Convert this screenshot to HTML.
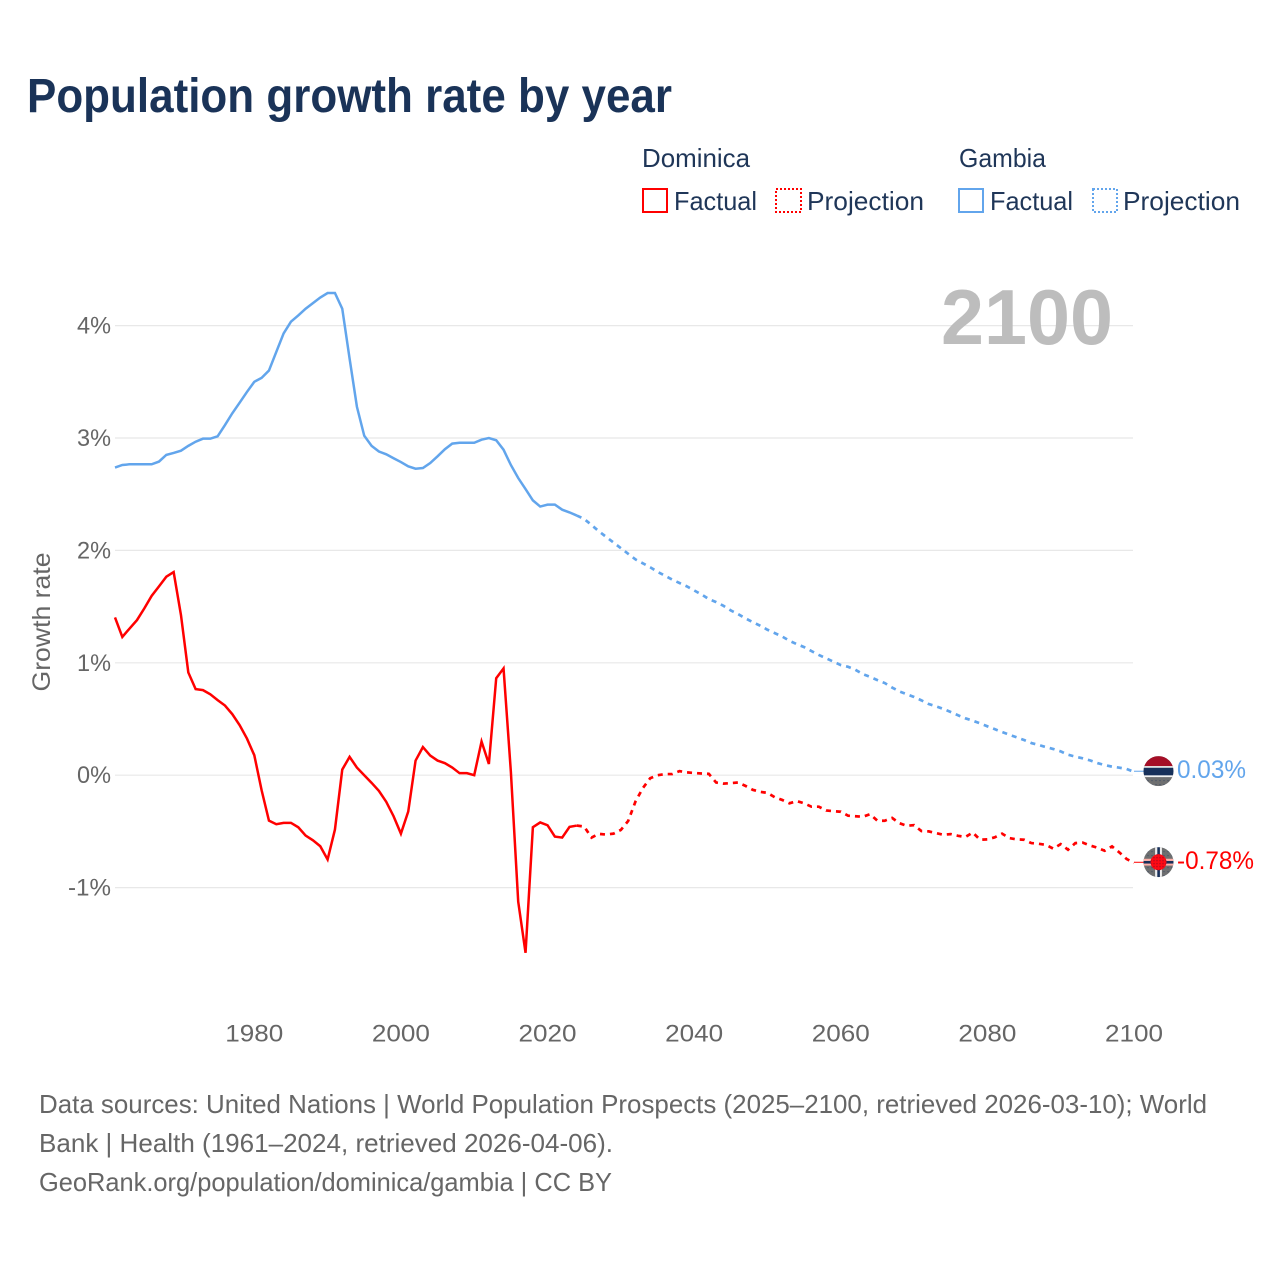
<!DOCTYPE html>
<html lang="en">
<head>
<meta charset="utf-8">
<title>Population growth rate by year</title>
<style>
html,body{margin:0;padding:0;background:#fff;}
svg{display:block;}
text{font-family:"Liberation Sans",sans-serif;}
</style>
</head>
<body>
<svg id="chart" xmlns="http://www.w3.org/2000/svg" width="1280" height="1280" viewBox="0 0 1280 1280">
  <defs>
    <pattern id="dot-pattern" width="4" height="4" patternUnits="userSpaceOnUse">
      <rect width="4" height="4" fill="#6e6f70"/>
      <circle cx="1.5" cy="1.5" r="0.55" fill="#2c3f60"/>
    </pattern>
    <pattern id="red-pattern" width="3" height="3" patternUnits="userSpaceOnUse">
      <rect width="3" height="3" fill="#ff0a14"/>
      <circle cx="1.5" cy="1.5" r="0.7" fill="#a80a20"/>
    </pattern>
    <clipPath id="flag-clip"><circle cx="0" cy="0" r="15"/></clipPath>
  </defs>

  <text x="27" y="112" font-size="48" font-weight="700" fill="#1a3358" textLength="645" lengthAdjust="spacingAndGlyphs">Population growth rate by year</text>

  <g font-size="26" fill="#1f3658">
    <text x="642" y="167" textLength="108" lengthAdjust="spacingAndGlyphs">Dominica</text>
    <text x="959" y="167" textLength="87" lengthAdjust="spacingAndGlyphs">Gambia</text>
    <g>
      <rect x="643" y="189" width="24" height="23" fill="none" stroke="#ff0000" stroke-width="2"/>
      <text x="674" y="210" textLength="83" lengthAdjust="spacingAndGlyphs">Factual</text>
    </g>
    <g>
      <rect x="776" y="189" width="25" height="23" fill="none" stroke="#ff0000" stroke-width="2" stroke-dasharray="2 2"/>
      <text x="807" y="210" textLength="117" lengthAdjust="spacingAndGlyphs">Projection</text>
    </g>
    <g>
      <rect x="959" y="189" width="24" height="23" fill="none" stroke="#62a5ec" stroke-width="2"/>
      <text x="990" y="210" textLength="83" lengthAdjust="spacingAndGlyphs">Factual</text>
    </g>
    <g>
      <rect x="1093" y="189" width="24" height="23" fill="none" stroke="#62a5ec" stroke-width="2" stroke-dasharray="2 2"/>
      <text x="1123" y="210" textLength="117" lengthAdjust="spacingAndGlyphs">Projection</text>
    </g>
  </g>

  <text transform="translate(50,622) rotate(-90)" text-anchor="middle" font-size="25" fill="#666666" textLength="139" lengthAdjust="spacingAndGlyphs">Growth rate</text>

  <g id="grid"></g>
  <g id="y-ticks"></g>
  <g id="x-ticks"></g>

  <text x="941" y="344" font-size="78" font-weight="700" fill="#bdbdbd" textLength="172" lengthAdjust="spacingAndGlyphs">2100</text>

  <g id="series"></g>

  <g id="flag-gambia" clip-path="url(#flag-clip)">
    <rect x="-15" y="-15" width="30" height="30" fill="url(#dot-pattern)"/>
    <rect x="-15" y="-15" width="30" height="10" fill="#a50e26"/>
    <rect x="-15" y="-5" width="30" height="11" fill="#f2f2f2"/>
    <rect x="-15" y="-3.4" width="30" height="7.6" fill="#17305a"/>
  </g>
  <g id="flag-dominica" clip-path="url(#flag-clip)">
    <rect x="-15" y="-15" width="30" height="30" fill="url(#dot-pattern)"/>
    <rect x="-15" y="-3.4" width="30" height="6.8" fill="#ffb0a8"/>
    <rect x="-15" y="-1.2" width="30" height="2.6" fill="#17305a"/>
    <rect x="-3.4" y="-15" width="6.8" height="30" fill="#eeeeee"/>
    <rect x="-1.2" y="-15" width="2.6" height="30" fill="#17305a"/>
    <circle cx="0" cy="0" r="8" fill="url(#red-pattern)"/>
  </g>
  <g id="end-labels"></g>

  <g font-size="26" fill="#666666">
    <text x="39" y="1113" textLength="1168" lengthAdjust="spacingAndGlyphs">Data sources: United Nations | World Population Prospects (2025–2100, retrieved 2026-03-10); World</text>
    <text x="39" y="1152" textLength="574" lengthAdjust="spacingAndGlyphs">Bank | Health (1961–2024, retrieved 2026-04-06).</text>
    <text x="39" y="1191" textLength="573" lengthAdjust="spacingAndGlyphs">GeoRank.org/population/dominica/gambia | CC BY</text>
  </g>
</svg>

<script>
var firstYear = 1961;
var lastFactualYear = 2024;
var yTickValues = [-1, 0, 1, 2, 3, 4];
var xTickYears = [1980, 2000, 2020, 2040, 2060, 2080, 2100];

// 1961..2024
var gambiaFactual = [
  2.737,2.76,2.766,2.766,2.766,2.766,2.79,2.85,2.867,2.887,
  2.93,2.967,2.994,2.994,3.015,3.115,3.22,3.314,3.41,3.5,
  3.535,3.6,3.766,3.93,4.035,4.09,4.15,4.2,4.25,4.29,
  4.29,4.15,3.707,3.278,3.02,2.93,2.88,2.855,2.82,2.786,
  2.748,2.727,2.733,2.777,2.837,2.9,2.95,2.958,2.958,2.958,
  2.985,3.0,2.98,2.896,2.76,2.644,2.546,2.445,2.39,2.407,
  2.407,2.362,2.338,2.31
];
// 2025..2100
var gambiaProjection = [
  2.28,2.226,2.17,2.12,2.07,2.02,1.97,1.92,1.885,1.85,
  1.81,1.775,1.74,1.71,1.68,1.644,1.608,1.567,1.54,1.507,
  1.466,1.433,1.395,1.362,1.33,1.294,1.264,1.234,1.196,1.166,
  1.14,1.104,1.07,1.04,1.01,0.98,0.964,0.938,0.9,0.875,
  0.846,0.82,0.78,0.745,0.72,0.696,0.666,0.633,0.613,0.589,
  0.562,0.533,0.506,0.485,0.461,0.435,0.41,0.384,0.36,0.337,
  0.313,0.286,0.269,0.25,0.233,0.212,0.182,0.165,0.15,0.132,
  0.108,0.09,0.076,0.067,0.055,0.03
];
// 1961..2024
var dominicaFactual = [
  1.404,1.23,1.306,1.38,1.484,1.596,1.68,1.766,1.807,1.424,
  0.914,0.766,0.757,0.72,0.668,0.62,0.543,0.445,0.326,0.178,
  -0.134,-0.404,-0.436,-0.424,-0.424,-0.463,-0.537,-0.579,-0.632,-0.75,
  -0.484,0.05,0.163,0.068,0.0,-0.068,-0.14,-0.237,-0.365,-0.52,
  -0.323,0.13,0.25,0.175,0.13,0.107,0.068,0.018,0.018,0.0,
  0.3,0.1,0.863,0.95,0.03,-1.125,-1.58,-0.463,-0.42,-0.445,
  -0.546,-0.555,-0.46,-0.448
];
// 2025..2100
var dominicaProjection = [
  -0.457,-0.555,-0.522,-0.528,-0.52,-0.487,-0.407,-0.234,-0.115,-0.027,
  0.0,0.01,0.01,0.036,0.025,0.02,0.015,0.012,-0.065,-0.075,
  -0.07,-0.065,-0.095,-0.13,-0.148,-0.157,-0.196,-0.22,-0.25,-0.23,
  -0.25,-0.28,-0.28,-0.314,-0.32,-0.325,-0.36,-0.365,-0.37,-0.347,
  -0.405,-0.405,-0.38,-0.427,-0.45,-0.444,-0.497,-0.5,-0.515,-0.53,
  -0.524,-0.539,-0.55,-0.51,-0.574,-0.571,-0.553,-0.52,-0.56,-0.571,
  -0.574,-0.604,-0.61,-0.62,-0.654,-0.613,-0.663,-0.604,-0.6,-0.625,
  -0.645,-0.672,-0.633,-0.687,-0.746,-0.78
];

var NS = 'http://www.w3.org/2000/svg';
var BLUE = '#62a5ec';
var RED = '#ff0000';

function xScale(year) { return 115 + (year - 1961) * 7.331; }
function yScale(value) { return 775.2 - value * 112.4; }

function pathFrom(values, startYear) {
  var d = '';
  for (var i = 0; i < values.length; i++) {
    d += (i ? 'L' : 'M') + xScale(startYear + i).toFixed(2) + ' ' + yScale(values[i]).toFixed(2);
  }
  return d;
}

function makeEl(tag, parent) {
  var el = document.createElementNS(NS, tag);
  parent.appendChild(el);
  return el;
}

var gridGroup = document.getElementById('grid');
var yTickGroup = document.getElementById('y-ticks');
var xTickGroup = document.getElementById('x-ticks');
var seriesGroup = document.getElementById('series');
var labelGroup = document.getElementById('end-labels');

yTickValues.forEach(function (v) {
  var line = makeEl('line', gridGroup);
  
  
  line.setAttribute('x1', 115);
  line.setAttribute('x2', 1133);
  line.setAttribute('y1', yScale(v));
  line.setAttribute('y2', yScale(v));
  line.setAttribute('stroke', '#e8e8e8');
  line.setAttribute('stroke-width', 1.2);

  var t = makeEl('text', yTickGroup);
  
  
  t.setAttribute('x', 111);
  t.setAttribute('y', yScale(v) + 8);
  t.setAttribute('text-anchor', 'end');
  t.setAttribute('font-size', 24);
  t.setAttribute('fill', '#666666');
  t.setAttribute('textLength', v < 0 ? 43 : 34);
  t.setAttribute('lengthAdjust', 'spacingAndGlyphs');
  t.textContent = v + '%';
});

xTickYears.forEach(function (yr) {
  var t = makeEl('text', xTickGroup);
  
  
  t.setAttribute('x', xScale(yr));
  t.setAttribute('y', 1041.5);
  t.setAttribute('text-anchor', 'middle');
  t.setAttribute('font-size', 24);
  t.setAttribute('fill', '#666666');
  t.setAttribute('textLength', 58);
  t.setAttribute('lengthAdjust', 'spacingAndGlyphs');
  t.textContent = String(yr);
});

function drawCountry(factual, projection, color, flagId, country) {
  var factualPath = makeEl('path', seriesGroup);
  
  
  factualPath.setAttribute('d', pathFrom(factual, firstYear));
  factualPath.setAttribute('fill', 'none');
  factualPath.setAttribute('stroke', color);
  factualPath.setAttribute('stroke-width', 2.5);

  var joined = [factual[factual.length - 1]].concat(projection);
  var projectionPath = makeEl('path', seriesGroup);
  
  
  projectionPath.setAttribute('d', pathFrom(joined, lastFactualYear));
  projectionPath.setAttribute('fill', 'none');
  projectionPath.setAttribute('stroke', color);
  projectionPath.setAttribute('stroke-width', 2.7);
  projectionPath.setAttribute('stroke-dasharray', '5 5');

  var last = projection[projection.length - 1];
  var endY = yScale(last);

  var connector = makeEl('line', seriesGroup);
  
  
  connector.setAttribute('x1', xScale(2100));
  connector.setAttribute('x2', 1144);
  connector.setAttribute('y1', endY - 0.6);
  connector.setAttribute('y2', endY - 0.6);
  connector.setAttribute('stroke', color);
  connector.setAttribute('stroke-width', 1);

  document.getElementById(flagId).setAttribute('transform', 'translate(1158.5,' + (endY - 0.7).toFixed(2) + ')');

  var label = makeEl('text', labelGroup);
  
  
  label.setAttribute('x', 1177);
  label.setAttribute('y', (endY + 6).toFixed(2));
  label.setAttribute('font-size', 25);
  label.setAttribute('fill', color);
  label.setAttribute('textLength', last < 0 ? 77 : 69);
  label.setAttribute('lengthAdjust', 'spacingAndGlyphs');
  label.textContent = last.toFixed(2) + '%';
}

drawCountry(gambiaFactual, gambiaProjection, BLUE, 'flag-gambia', 'gambia');
drawCountry(dominicaFactual, dominicaProjection, RED, 'flag-dominica', 'dominica');
</script>
</body>
</html>
